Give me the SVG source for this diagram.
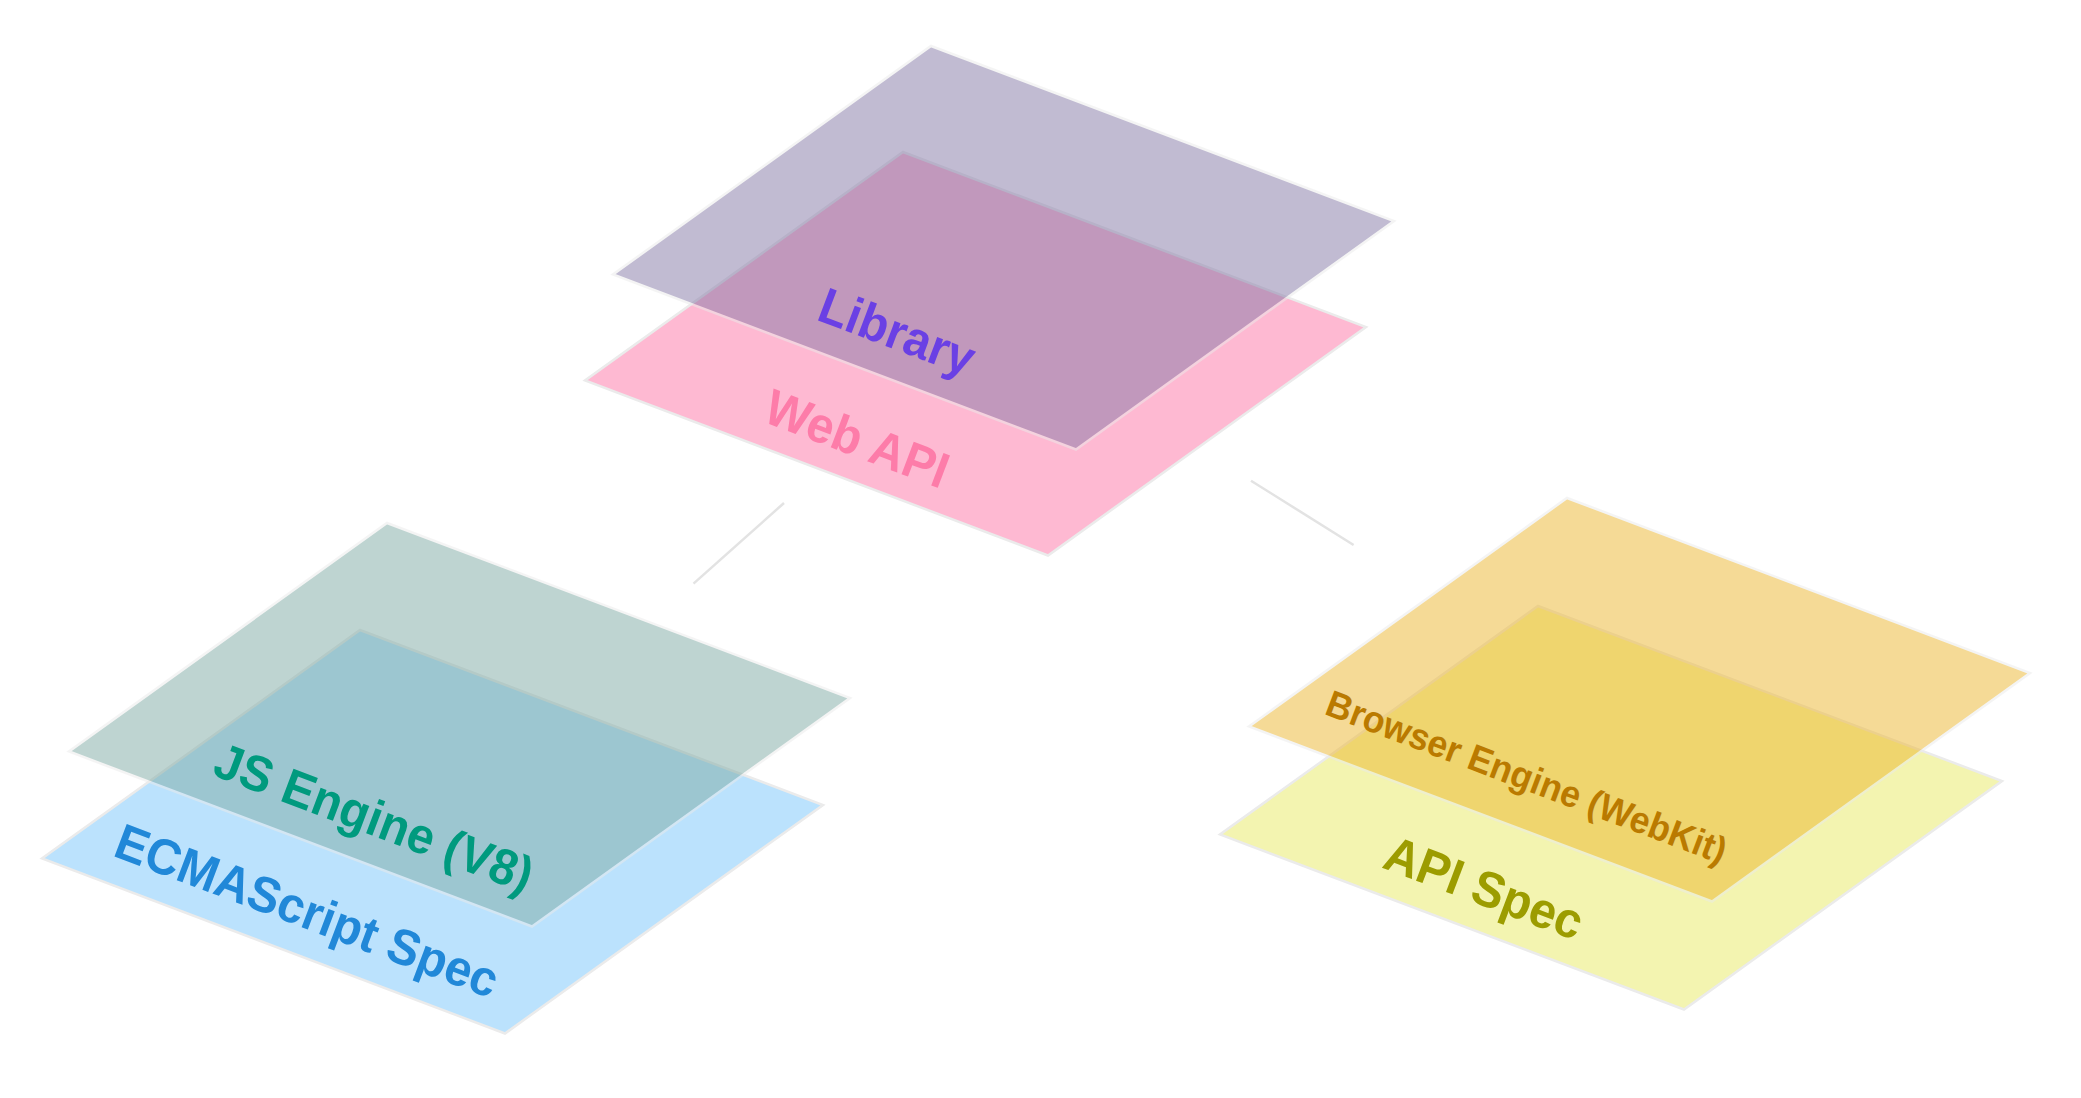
<svg xmlns="http://www.w3.org/2000/svg" width="2081" height="1098" viewBox="0 0 2081 1098">
<style>
.plane{stroke:#ebebeb;stroke-width:2.5;stroke-linejoin:miter}
.top{opacity:0.5}
.lbl{font-family:"Liberation Sans",Arial,sans-serif;font-weight:bold;text-anchor:middle}
.conn{stroke:#e3e3e3;stroke-width:2.5;fill:none}
</style>
<rect width="2081" height="1098" fill="#ffffff"/>
<g id="connectors">
<line class="conn" x1="784" y1="503" x2="693.5" y2="583.6"/>
<line class="conn" x1="1251" y1="480.7" x2="1353.6" y2="545"/>
</g>
<g id="web-api">
<polygon class="plane" fill="#feb9d2" points="903,152 1366,327 1048,555.5 585,380.5"/>
<text class="lbl" font-size="48" fill="#fd7ca9" transform="translate(851,455) rotate(20.7) scale(1,1.05)">Web API</text>
</g>
<g id="library">
<polygon class="plane top" fill="#8579a7" points="931,46 1394,221 1076,449.5 613,274.5"/>
<text class="lbl" font-size="48" fill="#6a40e4" transform="translate(891,348) rotate(20.7) scale(1,1.05)">Library</text>
</g>
<g id="ecmascript-spec">
<polygon class="plane" fill="#bbe2fd" points="360,630 823,805 505,1033.5 42,858.5"/>
<text class="lbl" font-size="48" fill="#2188d8" transform="translate(301,927) rotate(20.7) scale(1,1.05)">ECMAScript Spec</text>
</g>
<g id="js-engine">
<polygon class="plane top" fill="#7faba5" points="387,523 850,698 532,926.5 69,751.5"/>
<text class="lbl" font-size="48" fill="#009a7e" transform="translate(368,834) rotate(20.7) scale(1,1.05)">JS Engine (V8)</text>
</g>
<g id="api-spec">
<polygon class="plane" fill="#f3f4b0" points="1538,606 2002,781 1684,1009.5 1220,834.5"/>
<text class="lbl" font-size="48" fill="#9c9c00" transform="translate(1478,904) rotate(20.7) scale(1,1.05)">API Spec</text>
</g>
<g id="browser-engine">
<polygon class="plane top" fill="#edb72f" points="1567,498 2030,673 1712,901.5 1249,726.5"/>
<text class="lbl" font-size="35.5" fill="#ba7a00" transform="translate(1522,789) rotate(20.7) scale(1,1.05)">Browser Engine (WebKit)</text>
</g>
</svg>
